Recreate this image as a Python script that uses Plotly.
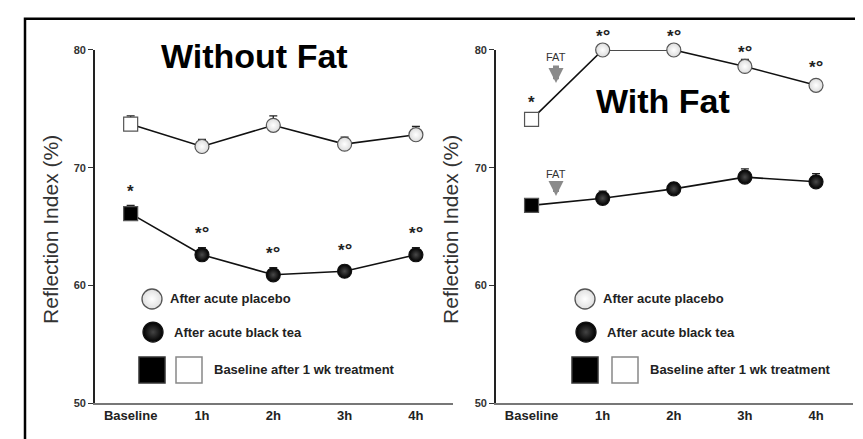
import plotly.graph_objects as go

W, H = 863, 439

categories = ["Baseline", "1h", "2h", "3h", "4h"]
y_ticks = [50, 60, 70, 80]

# Without Fat
nofat_placebo = [73.7, 71.8, 73.6, 72.0, 72.8]
nofat_placebo_err = [0.7, 0.6, 0.8, 0.6, 0.7]
nofat_tea = [66.1, 62.6, 60.9, 61.2, 62.6]
nofat_tea_err = [0.7, 0.6, 0.6, 0.5, 0.6]
nofat_tea_sig = ["*", "*o", "*o", "*o", "*o"]

# With Fat
fat_placebo = [74.1, 80.0, 80.0, 78.6, 77.0]
fat_placebo_err = [0.5, 0.4, 0.4, 0.6, 0.4]
fat_placebo_sig = ["*", "*o", "*o", "*o", "*o"]
fat_tea = [66.8, 67.4, 68.2, 69.2, 68.8]
fat_tea_err = [0.3, 0.6, 0.5, 0.7, 0.7]

xi = list(range(len(categories)))

FONT = "Liberation Sans, Arial, sans-serif"


def px(x):
    return x / W


def py(y):
    return 1 - y / H


fig = go.Figure()

placebo_marker = dict(size=14, color="#dcdcdc", line=dict(color="#555", width=1.2),
                      gradient=dict(type="radial", color="#ffffff"))
tea_marker = dict(size=14, color="#000000", line=dict(color="#111", width=1.2),
                  gradient=dict(type="radial", color="#4a4a4a"))


def add_series(vals, errs, xa, ya, marker, base_fill):
    fig.add_trace(go.Scatter(
        x=xi, y=vals, xaxis=xa, yaxis=ya, mode="lines",
        line=dict(color="#111", width=1.6), showlegend=False, hoverinfo="skip"))
    fig.add_trace(go.Scatter(
        x=xi[1:], y=vals[1:], xaxis=xa, yaxis=ya, mode="markers",
        marker=marker, showlegend=False, cliponaxis=False,
        error_y=dict(type="data", symmetric=False, array=errs[1:],
                     arrayminus=[0] * (len(errs) - 1), color="#222", thickness=1.3, width=4)))
    fig.add_trace(go.Scatter(
        x=xi[:1], y=vals[:1], xaxis=xa, yaxis=ya, mode="markers",
        marker=dict(symbol="square", size=14, color=base_fill,
                    line=dict(color="#555", width=1.2)),
        showlegend=False, cliponaxis=False,
        error_y=dict(type="data", symmetric=False, array=errs[:1], arrayminus=[0],
                     color="#222", thickness=1.3, width=4)))


add_series(nofat_placebo, nofat_placebo_err, "x", "y", placebo_marker, "#ffffff")
add_series(nofat_tea, nofat_tea_err, "x", "y", tea_marker, "#000000")
add_series(fat_placebo, fat_placebo_err, "x2", "y2", placebo_marker, "#ffffff")
add_series(fat_tea, fat_tea_err, "x2", "y2", tea_marker, "#000000")

# legend key markers on an invisible full-page pixel axis
leg_sets = [(144, 181), (577, 617)]
for cx, sx in leg_sets:
    fig.add_trace(go.Scatter(x=[cx], y=[293], xaxis="x3", yaxis="y3", mode="markers",
                             marker=dict(size=20, color="#e0e0e0", line=dict(color="#555", width=1.3),
                                         gradient=dict(type="radial", color="#ffffff")),
                             showlegend=False, hoverinfo="skip", cliponaxis=False))
    fig.add_trace(go.Scatter(x=[cx + 1], y=[327], xaxis="x3", yaxis="y3", mode="markers",
                             marker=dict(size=20, color="#000", line=dict(color="#111", width=1.3),
                                         gradient=dict(type="radial", color="#444")),
                             showlegend=False, hoverinfo="skip", cliponaxis=False))
    fig.add_trace(go.Scatter(x=[cx, sx], y=[366, 366], xaxis="x3", yaxis="y3", mode="markers",
                             marker=dict(symbol="square", size=26, color=["#000", "#fff"],
                                         line=dict(color=["#333", "#888"], width=1.5)),
                             showlegend=False, hoverinfo="skip", cliponaxis=False))

ann = []
leg_texts = [("After acute placebo", 0, 293), ("After acute black tea", 4, 327),
             ("Baseline after 1 wk treatment", None, 366)]
for (cx, sx) in leg_sets:
    for t, dx, y in leg_texts:
        x0 = (cx + 16 + dx) if dx is not None else (sx + 23)
        ann.append(dict(text=t, x=px(x0), y=py(y), xref="paper", yref="paper",
                        xanchor="left", yanchor="middle", showarrow=False,
                        font=dict(family=FONT, size=13, color="#222", weight=700)))


def sig_text(s):
    if s == "*":
        return "*"
    return "*<span style='font-size:19px'>°</span>"


for i, s in enumerate(nofat_tea_sig):
    ann.append(dict(text=sig_text(s), x=xi[i], y=nofat_tea[i], xref="x", yref="y",
                    showarrow=False, yshift=22, yanchor="middle",
                    font=dict(family=FONT, size=17, color="#222", weight=700)))
for i, s in enumerate(fat_placebo_sig):
    ann.append(dict(text=sig_text(s), x=xi[i], y=fat_placebo[i], xref="x2", yref="y2",
                    showarrow=False, yshift=[17, 14, 14, 15, 19][i], yanchor="middle",
                    font=dict(family=FONT, size=17, color="#222", weight=700)))

# panel titles
ann.append(dict(text="Without Fat", x=px(246), y=py(43), xref="paper", yref="paper",
                showarrow=False, xanchor="center", yanchor="middle",
                font=dict(family=FONT, size=34, color="#000", weight=700)))
ann.append(dict(text="With Fat", x=px(655), y=py(89), xref="paper", yref="paper",
                showarrow=False, xanchor="center", yanchor="middle",
                font=dict(family=FONT, size=34, color="#000", weight=700)))

# axis titles
for cx in (43, 443):
    ann.append(dict(text="Reflection Index (%)", x=px(cx), y=py(222), xref="paper", yref="paper",
                    showarrow=False, textangle=-90, xanchor="center", yanchor="middle",
                    font=dict(family=FONT, size=21, color="#333")))

# FAT arrows
for ty, tip in ((45, 71), (165, 187)):
    ann.append(dict(text="FAT", x=px(548), y=py(tip), xref="paper", yref="paper",
                    ax=0, ay=-(tip - ty), showarrow=True, arrowhead=2, arrowsize=0.5,
                    arrowwidth=6, arrowcolor="#8a8a8a", standoff=0, startstandoff=1,
                    font=dict(family=FONT, size=11, color="#333")))

yax = dict(range=[50, 80], tickvals=y_ticks, ticks="outside", ticklen=5, tickwidth=1.3,
           tickcolor="#333", showline=True, linecolor="#222", linewidth=1.6,
           showgrid=False, zeroline=False, fixedrange=True,
           tickfont=dict(family=FONT, size=11, color="#333", weight=700))
xax = dict(range=[-0.5, 4.52], tickvals=xi, ticktext=categories, ticks="",
           showline=True, linecolor="#777", linewidth=1.6, showgrid=False, zeroline=False,
           tickfont=dict(family=FONT, size=13, color="#222", weight=700))

fig.update_layout(
    width=W, height=H, margin=dict(l=0, r=0, t=0, b=0),
    paper_bgcolor="white", plot_bgcolor="rgba(0,0,0,0)",
    xaxis=dict(xax, domain=[px(87), px(445)], anchor="y"),
    yaxis=dict(yax, domain=[py(400), py(37)], anchor="x"),
    xaxis2=dict(xax, domain=[px(488), px(845)], anchor="y2"),
    yaxis2=dict(yax, domain=[py(400), py(37)], anchor="x2"),
    xaxis3=dict(range=[0, W], domain=[0, 1], visible=False, anchor="y3"),
    yaxis3=dict(range=[H, 0], domain=[0, 1], visible=False, anchor="x3"),
    annotations=ann,
    shapes=[dict(type="rect", xref="paper", yref="paper", x0=px(17), x1=px(859),
                 y0=-0.02, y1=py(5), line=dict(color="#000", width=2.5))],
    showlegend=False,
)

fig.write_html("out.html")
